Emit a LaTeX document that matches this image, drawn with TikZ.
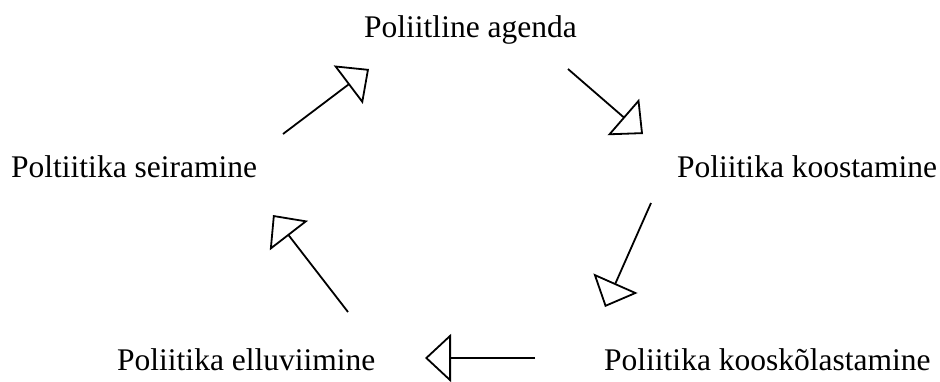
\documentclass[tikz,border=0pt]{standalone}
\usepackage{fontspec}
\setmainfont{Liberation Serif}
\usetikzlibrary{arrows.meta}
\begin{document}
\begin{tikzpicture}[x=1pt,y=-1pt,
  lbl/.style={anchor=base west,inner sep=0pt,font=\fontsize{31.5}{36}\selectfont},
  cyc/.style={line width=1.8pt,-{Triangle[open,length=26pt,width=48pt,line width=1.8pt]}}]
\useasboundingbox (0,0) rectangle (940,381);
\node[lbl] (agenda) at (364,37) {Poliitline agenda};
\node[lbl] (koost) at (677,177) {Poliitika koostamine};
\node[lbl] (kooskl) at (604,370) {Poliitika kooskõlastamine};
\node[lbl] (ellu) at (117,370) {Poliitika elluviimine};
\node[lbl] (seire) at (11,177) {Poltiitika seiramine};
\coordinate (a1s) at (283,134); \coordinate (a1e) at (369,69);
\coordinate (a2s) at (568,69);  \coordinate (a2e) at (643,134);
\coordinate (a3s) at (651,203); \coordinate (a3e) at (605,307);
\coordinate (a4s) at (535,358); \coordinate (a4e) at (425,358);
\coordinate (a5s) at (348,312); \coordinate (a5e) at (273,215);
\draw[cyc] (a1s) -- (a1e);
\draw[cyc] (a2s) -- (a2e);
\draw[cyc] (a3s) -- (a3e);
\draw[cyc] (a4s) -- (a4e);
\draw[cyc] (a5s) -- (a5e);
\end{tikzpicture}
\end{document}
